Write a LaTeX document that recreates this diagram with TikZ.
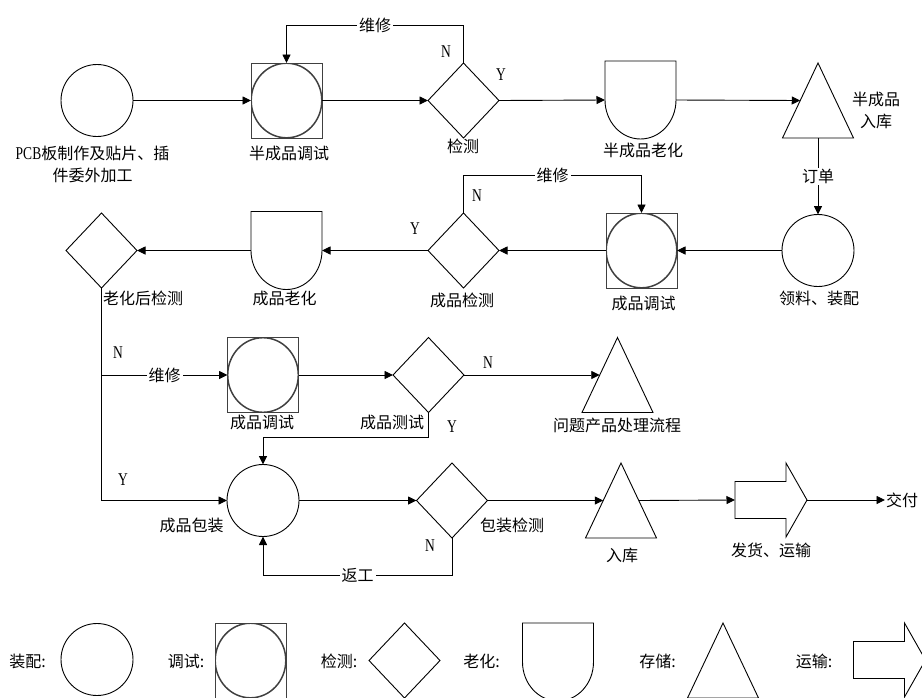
\documentclass[tikz,border=0pt]{standalone}
\usepackage{fontspec}
\setmainfont{Liberation Serif}
\newfontfamily\cjk{Noto Sans CJK SC}
\newfontfamily\narrow[FakeStretch=0.75]{Liberation Serif}
\usetikzlibrary{shapes.geometric,arrows.meta,calc}

\begin{document}
\begin{tikzpicture}[x=1pt,y=1pt,
  line width=0.9pt,
  every node/.style={inner sep=0pt, outer sep=0pt},
  txt/.style={font=\cjk\fontsize{16}{22}\selectfont, inner sep=1pt},
  yn/.style={font=\narrow\fontsize{18}{20}\selectfont},
  tag/.style={txt, fill=white, inner xsep=2pt},
  flow/.style={-{Triangle[length=8.5pt,width=8pt]}},
  assy/.style={circle, draw, minimum size=72pt},
  tune/.style={rectangle, draw=black!75, line width=0.7pt,
    minimum width=71pt, minimum height=75pt,
    path picture={\draw[line width=1.5pt] (path picture bounding box.center)
      ellipse [x radius=35.3pt, y radius=37.3pt];}},
  check/.style={diamond, draw, minimum width=71pt, minimum height=75pt},
  frame/.style={rectangle, minimum width=71pt, minimum height=75pt},
  age/.style={rectangle, minimum width=71pt, minimum height=78pt},
  haul/.style={rectangle, minimum width=72pt, minimum height=74pt},
]
\useasboundingbox (0,0) rectangle (922,-697);
\clip (0,0) rectangle (922,-697);

% ---- row 1: sub-assembly
\node[assy]  (pcb)    at (97,-100.5)   {};
\node[tune]  (tune1)  at (286.5,-100.5) {};
\node[check] (chk1)   at (463.5,-100.5) {};
\node[age]   (age1)   at (640.5,-100)   {};
\node[frame] (store1) at (818,-100.5)   {};

% ---- row 2: final assembly
\node[assy]  (kit)    at (818,-250.5)   {};
\node[tune]  (tune2)  at (641.5,-250.5) {};
\node[check] (chk2)   at (463.5,-250.5) {};
\node[age]   (age2)   at (286.5,-250.5) {};
\node[check] (chk3)   at (101.5,-250.5) {};

% ---- row 3: repair branch
\node[tune]  (tune3)  at (263,-375)     {};
\node[check] (chk4)   at (428.5,-375)   {};
\node[frame] (store2) at (617.5,-375)   {};

% ---- row 4: packing and shipping
\node[assy]  (pack)   at (263,-500.5)   {};
\node[check] (chk5)   at (452,-500.5)   {};
\node[frame] (store3) at (621,-500.5)   {};
\node[haul]  (ship)   at (771,-500)     {};
\node[txt, anchor=west] (deliver) at (885,-500) {交付};

% ---- legend
\node[txt]   (keyA) at (27.5,-661)  {装配:};
\node[assy]  (lgA)  at (97,-659.5)  {};
\node[txt]   (keyT) at (186,-661)   {调试:};
\node[tune]  (lgT)  at (250.5,-660.5) {};
\node[txt]   (keyC) at (339,-661)   {检测:};
\node[check] (lgC)  at (404.5,-660.5) {};
\node[txt]   (keyG) at (481.5,-661) {老化:};
\node[age]   (lgG)  at (558,-662)   {};
\node[txt]   (keyS) at (657.5,-661) {存储:};
\node[frame] (lgS)  at (723,-660.5) {};
\node[txt]   (keyP) at (814,-661)   {运输:};
\node[haul]  (lgP)  at (889.5,-660) {};

% custom outlines: aging (flat top, round bottom), storage triangle, transport arrow
\foreach \n in {age1,age2,lgG}
  \draw (\n.west) -- (\n.north west) -- (\n.north east) -- (\n.east)
        arc[start angle=0, end angle=-180, x radius=35.5, y radius=39];
\foreach \n in {store1,store2,store3,lgS}
  \draw (\n.south west) -- (\n.north) -- (\n.south east) -- cycle;
\foreach \n in {ship,lgP}
  \draw ($(\n.west)+(0,18.5)$) -- ($(\n.west)+(51,18.5)$) -- ($(\n.north west)+(51,0)$)
        -- (\n.east) -- ($(\n.south west)+(51,0)$) -- ($(\n.west)+(51,-18.5)$)
        -- ($(\n.west)+(0,-18.5)$) -- cycle;

% ---- captions
\node[txt, align=center] (pcbL) at (92.5,-164)
  {{\narrow\fontsize{18}{22}\selectfont PCB}板制作及贴片、插\\件委外加工};
\node[txt] (tune1L)  at (289,-153)   {半成品调试};
\node[txt] (chk1L)   at (463,-146)   {检测};
\node[txt] (age1L)   at (643,-150)   {半成品老化};
\node[txt, align=center] (store1L) at (876,-110) {半成品\\入库};
\node[txt] (kitL)    at (819,-298)   {领料、装配};
\node[txt] (tune2L)  at (643.5,-303) {成品调试};
\node[txt] (chk2L)   at (462,-300)   {成品检测};
\node[txt] (age2L)   at (284.5,-298) {成品老化};
\node[txt] (chk3L)   at (143,-298)   {老化后检测};
\node[txt] (tune3L)  at (262,-422)   {成品调试};
\node[txt] (chk4L)   at (392,-422)   {成品测试};
\node[txt] (store2L) at (617,-425)   {问题产品处理流程};
\node[txt] (packL)   at (191.5,-525) {成品包装};
\node[txt] (chk5L)   at (512,-525)   {包装检测};
\node[txt] (store3L) at (622,-555)   {入库};
\node[txt] (shipL)   at (771,-550)   {发货、运输};

% ---- decision marks
\node[yn] (n1) at (446,-52)  {N};
\node[yn] (y1) at (501,-75)  {Y};
\node[yn] (n2) at (477,-196) {N};
\node[yn] (y2) at (415,-229) {Y};
\node[yn] (n3) at (118,-353) {N};
\node[yn] (y3) at (123,-480) {Y};
\node[yn] (n4) at (488,-363) {N};
\node[yn] (y4) at (452,-427) {Y};
\node[yn] (n5) at (430,-546) {N};

% ---- connectors
\draw[flow] (pcb.east) -- (tune1.west);
\draw[flow] (tune1.east) -- (chk1.west);
\draw[flow] (chk1.north) -- ++(0,38) -| node[tag,pos=0.25] (fix1) {维修} (tune1.north);
\draw[flow] (chk1.east) -- (age1.west);
\draw[flow] (age1.east) -- ($(store1.west)!0.5!(store1.center)$);
\draw[flow] (store1.south) -- node[tag] (order) {订单} (kit.north);
\draw[flow] (kit.west) -- (tune2.east);
\draw[flow] (tune2.west) -- (chk2.east);
\draw[flow] (chk2.north) -- ++(0,38) -| node[tag,pos=0.25] (fix2) {维修} (tune2.north);
\draw[flow] (chk2.west) -- (age2.east);
\draw[flow] (age2.west) -- (chk3.east);
\coordinate (split) at (chk3.south |- tune3.west);
\draw[flow] (chk3.south) |- (pack.west);
\draw[flow] (split) -- node[tag] (fix3) {维修} (tune3.west);
\draw[flow] (tune3.east) -- (chk4.west);
\draw[flow] (chk4.east) -- ($(store2.west)!0.5!(store2.center)$);
\draw[flow] (chk4.south) -- ++(0,-24.5) -| (pack.north);
\draw[flow] (pack.east) -- (chk5.west);
\draw[flow] (chk5.south) -- ++(0,-37) -| node[tag,pos=0.25] (redo) {返工} (pack.south);
\draw[flow] (chk5.east) -- ($(store3.west)!0.5!(store3.center)$);
\draw[flow] ($(store3.east)!0.5!(store3.center)$) -- (ship.west);
\draw[flow] (ship.east) -- (deliver.west);
\end{tikzpicture}
\end{document}
